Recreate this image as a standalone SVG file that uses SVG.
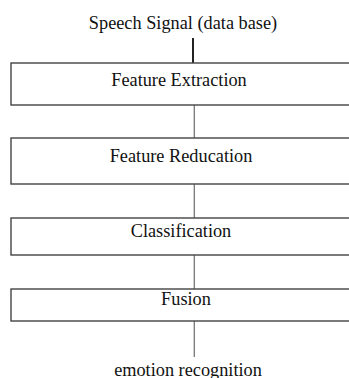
<svg xmlns="http://www.w3.org/2000/svg" width="349" height="378" viewBox="0 0 349 378">
<style>
.box{fill:#fff;stroke:#444;stroke-width:1.4}
.lbl{font-family:"Liberation Serif","Times New Roman",serif;font-size:18.3px;fill:#111;text-anchor:middle}
.con{stroke:#777;stroke-width:1.3;fill:none}
</style>
<rect width="349" height="378" fill="#fff"/>
<g id="connectors">
<line class="con" x1="193" y1="38" x2="193" y2="63" style="stroke:#222;stroke-width:2"/>
<line class="con" x1="194.3" y1="105" x2="194.3" y2="138"/>
<line class="con" x1="194.3" y1="184" x2="194.3" y2="218"/>
<line class="con" x1="194.3" y1="255" x2="194.3" y2="289"/>
<line class="con" x1="194.3" y1="321" x2="194.3" y2="357"/>
</g>
<g id="speech"><text class="lbl" x="183" y="29">Speech Signal (data base)</text></g>
<g id="feature-extraction"><rect class="box" x="11" y="63" width="345" height="42"/><text class="lbl" x="179" y="86">Feature Extraction</text></g>
<g id="feature-reducation"><rect class="box" x="11" y="138" width="345" height="46"/><text class="lbl" x="181" y="162">Feature Reducation</text></g>
<g id="classification"><rect class="box" x="11" y="218" width="345" height="37"/><text class="lbl" x="181" y="237">Classification</text></g>
<g id="fusion"><rect class="box" x="11" y="289" width="345" height="32"/><text class="lbl" x="186" y="305">Fusion</text></g>
<g id="emotion"><text class="lbl" x="188" y="376">emotion recognition</text></g>
</svg>
